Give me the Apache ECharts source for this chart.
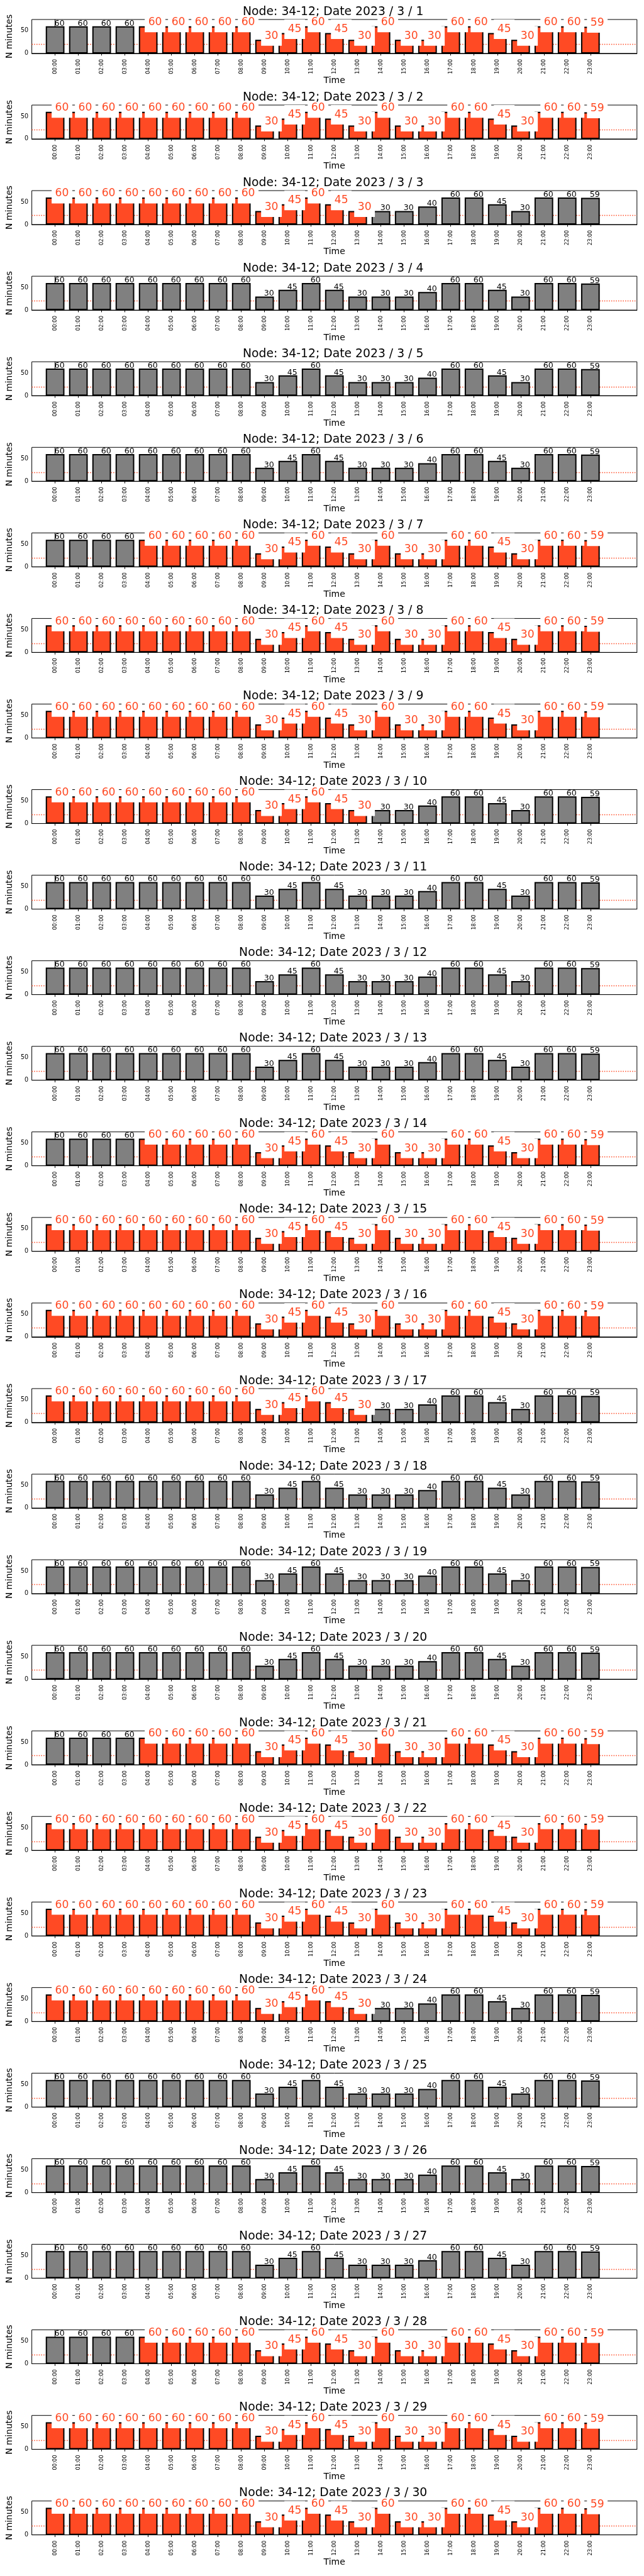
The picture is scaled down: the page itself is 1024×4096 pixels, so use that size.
<!DOCTYPE html>
<html><head><meta charset="utf-8">
<script src="https://cdn.jsdelivr.net/npm/echarts@6/dist/echarts.min.js"></script>
<style>html,body{margin:0;padding:0;background:#fff}#c{width:1024px;height:4096px}</style>
</head><body><div id="c"></div>
<script>
// ---------- data ----------
const hours = ['00:00','01:00','02:00','03:00','04:00','05:00','06:00','07:00','08:00','09:00','10:00','11:00',
               '12:00','13:00','14:00','15:00','16:00','17:00','18:00','19:00','20:00','21:00','22:00','23:00'];
const node = '34-12';
const dayNumbers = [1,2,3,4,5,6,7,8,9,10,11,12,13,14,15,16,17,18,19,20,21,22,23,24,25,26,27,28,29,30];
const yTickValues = [0, 50];
const threshold = 20;

// minutes per hour, one row per day
const minutes = [
  [60,60,60,60,60,60,60,60,60,30,45,60,45,30,60,30,30,60,60,45,30,60,60,59], // 1
  [60,60,60,60,60,60,60,60,60,30,45,60,45,30,60,30,30,60,60,45,30,60,60,59], // 2
  [60,60,60,60,60,60,60,60,60,30,45,60,45,30,30,30,40,60,60,45,30,60,60,59], // 3
  [60,60,60,60,60,60,60,60,60,30,45,60,45,30,30,30,40,60,60,45,30,60,60,59], // 4
  [60,60,60,60,60,60,60,60,60,30,45,60,45,30,30,30,40,60,60,45,30,60,60,59], // 5
  [60,60,60,60,60,60,60,60,60,30,45,60,45,30,30,30,40,60,60,45,30,60,60,59], // 6
  [60,60,60,60,60,60,60,60,60,30,45,60,45,30,60,30,30,60,60,45,30,60,60,59], // 7
  [60,60,60,60,60,60,60,60,60,30,45,60,45,30,60,30,30,60,60,45,30,60,60,59], // 8
  [60,60,60,60,60,60,60,60,60,30,45,60,45,30,60,30,30,60,60,45,30,60,60,59], // 9
  [60,60,60,60,60,60,60,60,60,30,45,60,45,30,30,30,40,60,60,45,30,60,60,59], // 10
  [60,60,60,60,60,60,60,60,60,30,45,60,45,30,30,30,40,60,60,45,30,60,60,59], // 11
  [60,60,60,60,60,60,60,60,60,30,45,60,45,30,30,30,40,60,60,45,30,60,60,59], // 12
  [60,60,60,60,60,60,60,60,60,30,45,60,45,30,30,30,40,60,60,45,30,60,60,59], // 13
  [60,60,60,60,60,60,60,60,60,30,45,60,45,30,60,30,30,60,60,45,30,60,60,59], // 14
  [60,60,60,60,60,60,60,60,60,30,45,60,45,30,60,30,30,60,60,45,30,60,60,59], // 15
  [60,60,60,60,60,60,60,60,60,30,45,60,45,30,60,30,30,60,60,45,30,60,60,59], // 16
  [60,60,60,60,60,60,60,60,60,30,45,60,45,30,30,30,40,60,60,45,30,60,60,59], // 17
  [60,60,60,60,60,60,60,60,60,30,45,60,45,30,30,30,40,60,60,45,30,60,60,59], // 18
  [60,60,60,60,60,60,60,60,60,30,45,60,45,30,30,30,40,60,60,45,30,60,60,59], // 19
  [60,60,60,60,60,60,60,60,60,30,45,60,45,30,30,30,40,60,60,45,30,60,60,59], // 20
  [60,60,60,60,60,60,60,60,60,30,45,60,45,30,60,30,30,60,60,45,30,60,60,59], // 21
  [60,60,60,60,60,60,60,60,60,30,45,60,45,30,60,30,30,60,60,45,30,60,60,59], // 22
  [60,60,60,60,60,60,60,60,60,30,45,60,45,30,60,30,30,60,60,45,30,60,60,59], // 23
  [60,60,60,60,60,60,60,60,60,30,45,60,45,30,30,30,40,60,60,45,30,60,60,59], // 24
  [60,60,60,60,60,60,60,60,60,30,45,60,45,30,30,30,40,60,60,45,30,60,60,59], // 25
  [60,60,60,60,60,60,60,60,60,30,45,60,45,30,30,30,40,60,60,45,30,60,60,59], // 26
  [60,60,60,60,60,60,60,60,60,30,45,60,45,30,30,30,40,60,60,45,30,60,60,59], // 27
  [60,60,60,60,60,60,60,60,60,30,45,60,45,30,60,30,30,60,60,45,30,60,60,59], // 28
  [60,60,60,60,60,60,60,60,60,30,45,60,45,30,60,30,30,60,60,45,30,60,60,59], // 29
  [60,60,60,60,60,60,60,60,60,30,45,60,45,30,60,30,30,60,60,45,30,60,60,59]  // 30
];
// 1 = highlighted (red) hour, 0 = normal (grey)
const flagged = [
  [0,0,0,0,1,1,1,1,1,1,1,1,1,1,1,1,1,1,1,1,1,1,1,1], // 1
  [1,1,1,1,1,1,1,1,1,1,1,1,1,1,1,1,1,1,1,1,1,1,1,1], // 2
  [1,1,1,1,1,1,1,1,1,1,1,1,1,1,0,0,0,0,0,0,0,0,0,0], // 3
  [0,0,0,0,0,0,0,0,0,0,0,0,0,0,0,0,0,0,0,0,0,0,0,0], // 4
  [0,0,0,0,0,0,0,0,0,0,0,0,0,0,0,0,0,0,0,0,0,0,0,0], // 5
  [0,0,0,0,0,0,0,0,0,0,0,0,0,0,0,0,0,0,0,0,0,0,0,0], // 6
  [0,0,0,0,1,1,1,1,1,1,1,1,1,1,1,1,1,1,1,1,1,1,1,1], // 7
  [1,1,1,1,1,1,1,1,1,1,1,1,1,1,1,1,1,1,1,1,1,1,1,1], // 8
  [1,1,1,1,1,1,1,1,1,1,1,1,1,1,1,1,1,1,1,1,1,1,1,1], // 9
  [1,1,1,1,1,1,1,1,1,1,1,1,1,1,0,0,0,0,0,0,0,0,0,0], // 10
  [0,0,0,0,0,0,0,0,0,0,0,0,0,0,0,0,0,0,0,0,0,0,0,0], // 11
  [0,0,0,0,0,0,0,0,0,0,0,0,0,0,0,0,0,0,0,0,0,0,0,0], // 12
  [0,0,0,0,0,0,0,0,0,0,0,0,0,0,0,0,0,0,0,0,0,0,0,0], // 13
  [0,0,0,0,1,1,1,1,1,1,1,1,1,1,1,1,1,1,1,1,1,1,1,1], // 14
  [1,1,1,1,1,1,1,1,1,1,1,1,1,1,1,1,1,1,1,1,1,1,1,1], // 15
  [1,1,1,1,1,1,1,1,1,1,1,1,1,1,1,1,1,1,1,1,1,1,1,1], // 16
  [1,1,1,1,1,1,1,1,1,1,1,1,1,1,0,0,0,0,0,0,0,0,0,0], // 17
  [0,0,0,0,0,0,0,0,0,0,0,0,0,0,0,0,0,0,0,0,0,0,0,0], // 18
  [0,0,0,0,0,0,0,0,0,0,0,0,0,0,0,0,0,0,0,0,0,0,0,0], // 19
  [0,0,0,0,0,0,0,0,0,0,0,0,0,0,0,0,0,0,0,0,0,0,0,0], // 20
  [0,0,0,0,1,1,1,1,1,1,1,1,1,1,1,1,1,1,1,1,1,1,1,1], // 21
  [1,1,1,1,1,1,1,1,1,1,1,1,1,1,1,1,1,1,1,1,1,1,1,1], // 22
  [1,1,1,1,1,1,1,1,1,1,1,1,1,1,1,1,1,1,1,1,1,1,1,1], // 23
  [1,1,1,1,1,1,1,1,1,1,1,1,1,1,0,0,0,0,0,0,0,0,0,0], // 24
  [0,0,0,0,0,0,0,0,0,0,0,0,0,0,0,0,0,0,0,0,0,0,0,0], // 25
  [0,0,0,0,0,0,0,0,0,0,0,0,0,0,0,0,0,0,0,0,0,0,0,0], // 26
  [0,0,0,0,0,0,0,0,0,0,0,0,0,0,0,0,0,0,0,0,0,0,0,0], // 27
  [0,0,0,0,1,1,1,1,1,1,1,1,1,1,1,1,1,1,1,1,1,1,1,1], // 28
  [1,1,1,1,1,1,1,1,1,1,1,1,1,1,1,1,1,1,1,1,1,1,1,1], // 29
  [1,1,1,1,1,1,1,1,1,1,1,1,1,1,1,1,1,1,1,1,1,1,1,1]  // 30
];

// ---------- layout / style ----------
const FONT = 'DejaVu Sans';
const RED = '#ff4a24';
const GREY = '#808080';
const TOP0 = 31.0, PITCH = 136.06, LEFT = 46.6, WIDTH = 966.2, HEIGHT = 53.9;
const X_MIN = -1, X_MAX = 25, Y_MIN = 0, Y_MAX = 75;
const UNIT = WIDTH / (X_MAX - X_MIN);
const hourIdx = hours.map((h, i) => i);

const grids = [], xAxes = [], yAxes = [], titles = [], series = [];
dayNumbers.forEach((d, i) => {
  const top = TOP0 + PITCH * i;
  grids.push({left: LEFT, top: top, width: WIDTH, height: HEIGHT, show: true,
              borderColor: '#000', borderWidth: 1, backgroundColor: 'transparent', containLabel: false});
  titles.push({text: 'Node: ' + node + '; Date 2023 / 3 / ' + d, left: LEFT + WIDTH / 2, textAlign: 'center',
               top: top - 21.8, padding: 0,
               textStyle: {fontFamily: FONT, fontSize: 18.8, fontWeight: 'normal', color: '#000', lineHeight: 19}});
  xAxes.push({type: 'value', gridIndex: i, min: X_MIN, max: X_MAX,
    name: 'Time', nameLocation: 'middle', nameGap: 36.4,
    nameTextStyle: {fontFamily: FONT, fontSize: 14, color: '#000', lineHeight: 14},
    axisLine: {show: true, onZero: false, lineStyle: {color: '#000', width: 1}},
    axisTick: {show: true, customValues: hourIdx, length: 3.4, lineStyle: {color: '#000', width: 1}},
    axisLabel: {show: true, customValues: hourIdx, rotate: 90, margin: 9, fontFamily: FONT, fontSize: 8.3,
                color: '#000', formatter: v => hours[v] || ''},
    splitLine: {show: false}});
  yAxes.push({type: 'value', gridIndex: i, min: Y_MIN, max: Y_MAX,
    name: 'N minutes', nameLocation: 'middle', nameGap: 24.8,
    nameTextStyle: {fontFamily: FONT, fontSize: 13.7, color: '#000', lineHeight: 14},
    axisLine: {show: true, lineStyle: {color: '#000', width: 1}},
    axisTick: {show: true, customValues: yTickValues, length: 3.4, lineStyle: {color: '#000', width: 1}},
    axisLabel: {show: true, customValues: yTickValues, margin: 5.5, fontFamily: FONT, fontSize: 9.6, color: '#000'},
    splitLine: {show: false}});
  const data = minutes[i].map((v, k) => {
    const red = flagged[i][k] === 1;
    return {
      value: [k, v],
      itemStyle: {color: red ? RED : GREY},
      label: red ? {
        show: true, position: ['50%', 0], align: 'left', verticalAlign: 'bottom', offset: [-5.5, 9.5],
        color: RED, fontFamily: FONT, fontSize: 17.2, lineHeight: 20,
        backgroundColor: '#fff', padding: [5.5, 5.5, 5.5, 5.5]
      } : {
        show: true, position: ['50%', 0], align: 'left', verticalAlign: 'bottom', offset: [-1, 2.1],
        color: '#000', fontFamily: FONT, fontSize: 12.6, lineHeight: 13
      }
    };
  });
  series.push({type: 'bar', xAxisIndex: i, yAxisIndex: i, z: 2, barWidth: 0.8 * UNIT, data: data,
    animation: false, silent: true,
    itemStyle: {borderColor: '#000', borderWidth: 2},
    label: {show: true, formatter: p => String(p.value[1])},
    markLine: {silent: true, z: 1, symbol: ['none', 'none'], label: {show: false},
      lineStyle: {type: [1.5, 2.2], color: RED, width: 1.4},
      emphasis: {disabled: true},
      data: [{yAxis: threshold}]}});
});

const chart = echarts.init(document.getElementById('c'), null, {renderer: 'canvas'});
chart.setOption({animation: false, backgroundColor: '#fff', title: titles, grid: grids,
                 xAxis: xAxes, yAxis: yAxes, series: series});
</script></body></html>
